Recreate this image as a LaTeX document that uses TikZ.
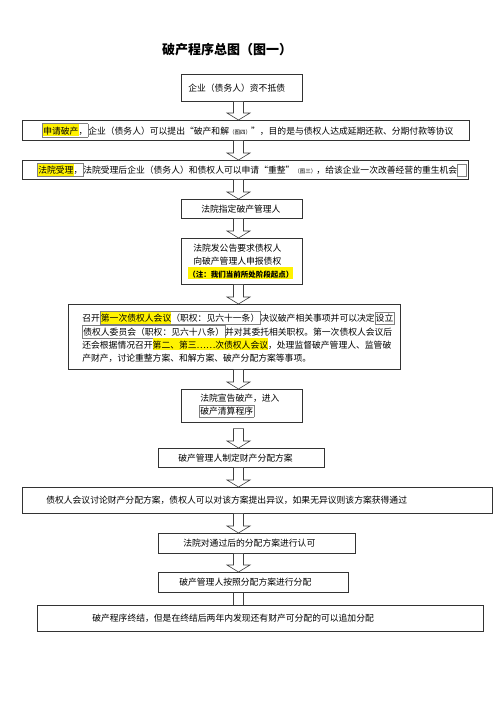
\documentclass[tikz,border=0pt]{standalone}
\usepackage{fontspec}
\setmainfont{Noto Sans CJK SC}
\usepackage{xcolor}
\usepackage{tikz}
\usetikzlibrary{calc}

\newcommand\hl[1]{{\setlength\fboxsep{0pt}\colorbox{yellow}{\rule[-2pt]{0pt}{12pt}#1}}}
\newcommand\lnk[1]{{\setlength\fboxsep{0.6pt}\setlength\fboxrule{0.4pt}\color{gray}\fbox{\color{black}\rule[-2pt]{0pt}{11pt}#1}}}
\newcommand\smalltxt[1]{{\fontsize{5.5}{6}\selectfont #1}}
\newcommand\oq{\makebox[1em][r]{“}}
\newcommand\cq{\makebox[1em][l]{”}}
\def\ax{238.5pt}
% hollow block arrow between two boxes
\newcommand\flowarrow[3][0pt]{%
\draw[arr] let \p1=(#2.south), \p2=(#3.north) in
 (\ax-5pt,\y1-#1) -- (\ax-5pt,\y2+7pt) -- (\ax-11.5pt,\y2+7pt) -- (\ax,\y2)
 -- (\ax+11.5pt,\y2+7pt) -- (\ax+5pt,\y2+7pt) -- (\ax+5pt,\y1-#1) -- cycle;}
\newcommand\flowbar[2]{%
\draw[arr] let \p1=(#1.south), \p2=(#2.north) in
 (\ax-5pt,\y1) -- (\ax-5pt,\y2) (\ax+5pt,\y1) -- (\ax+5pt,\y2);}

\begin{document}
\begin{tikzpicture}[x=1pt,y=-1pt,
  stepbox/.style={draw=black!80,line width=0.6pt,anchor=north west,align=left,
    inner xsep=0pt,inner ysep=0pt,font=\fontsize{8.8}{13}\selectfont},
  arr/.style={draw=black!75,line width=0.6pt,fill=white}]
\useasboundingbox (0,0) rectangle (500,707);

\node[font=\bfseries\fontsize{13}{15}\selectfont] (title) at (227,50) {破产程序总图（图一）};

\node[stepbox,text width=121pt,minimum height=27pt] (debt) at (181,74)
  {\hspace*{7pt}企业（债务人）资不抵债};
\node[stepbox,text width=447pt,minimum height=20pt] (apply) at (22,120)
  {\hspace*{20pt}\lnk{\hl{申请破产}，}企业（债务人）可以提出\oq 破产和解\smalltxt{（图四）}\cq，目的是与债权人达成延期还款、分期付款等协议};
\node[stepbox,text width=446pt,minimum height=19pt] (accept) at (22,160)
  {\hspace*{15pt}\lnk{\hl{法院受理}，}法院受理后企业（债务人）和债权人可以申请\oq 重整\cq\smalltxt{（图三）}，给该企业一次改善经营的重生机会\lnk{\hspace{7pt}}};
\node[stepbox,text width=121pt,minimum height=19pt] (admin) at (181,199)
  {\hspace*{20pt}法院指定破产管理人};
\node[stepbox,text width=121pt,minimum height=46pt] (notice) at (181,238)
  {\hspace*{12pt}法院发公告要求债权人\\
   \hspace*{12pt}向破产管理人申报债权\\
   \hspace*{7pt}{\bfseries\fontsize{7.5}{9}\selectfont\hl{（注：我们当前所处阶段起点）}}};
\node[stepbox,text width=332pt,minimum height=65pt,font=\fontsize{8.8}{13.3}\selectfont] (meeting) at (68,304)
  {\hspace*{14pt}召开\lnk{\hl{第一次债权人会议}（职权：见六十一条）}决议破产相关事项并可以决定\lnk{设立}\\
   \hspace*{14pt}\lnk{债权人委员会（职权：见六十八条）}并对其委托相关职权。第一次债权人会议后\\
   \hspace*{14pt}还会根据情况召开\hl{第二、第三……次债权人会议}，处理监督破产管理人、监管破\\
   \hspace*{14pt}产财产，讨论重整方案、和解方案、破产分配方案等事项。};
\node[stepbox,text width=121pt,minimum height=33pt] (declare) at (181,389)
  {\hspace*{19pt}法院宣告破产，进入\\
   \hspace*{18pt}\lnk{破产清算程序}};
\node[stepbox,text width=166pt,minimum height=19pt] (plan) at (158,448)
  {\hspace*{20pt}破产管理人制定财产分配方案};
\node[stepbox,text width=470pt,minimum height=26pt] (vote) at (22,487)
  {\hspace*{24pt}债权人会议讨论财产分配方案，债权人可以对该方案提出异议，如果无异议则该方案获得通过};
\node[stepbox,text width=197pt,minimum height=20pt] (approve) at (158,533)
  {\hspace*{25pt}法院对通过后的分配方案进行认可};
\node[stepbox,text width=190pt,minimum height=20pt] (distribute) at (158,572)
  {\hspace*{21pt}破产管理人按照分配方案进行分配};
\node[stepbox,text width=446pt,minimum height=26pt] (close) at (37,605)
  {\hspace*{55pt}破产程序终结，但是在终结后两年内发现还有财产可分配的可以追加分配};

\flowarrow{debt}{apply}
\flowarrow{apply}{accept}
\flowarrow{accept}{admin}
\flowarrow{admin}{notice}
\flowarrow{notice}{meeting}
\flowarrow{meeting}{declare}
\flowarrow[6pt]{declare}{plan}
\flowarrow{plan}{vote}
\flowarrow{vote}{approve}
\flowarrow{approve}{distribute}
\flowbar{distribute}{close}
\end{tikzpicture}
\end{document}
